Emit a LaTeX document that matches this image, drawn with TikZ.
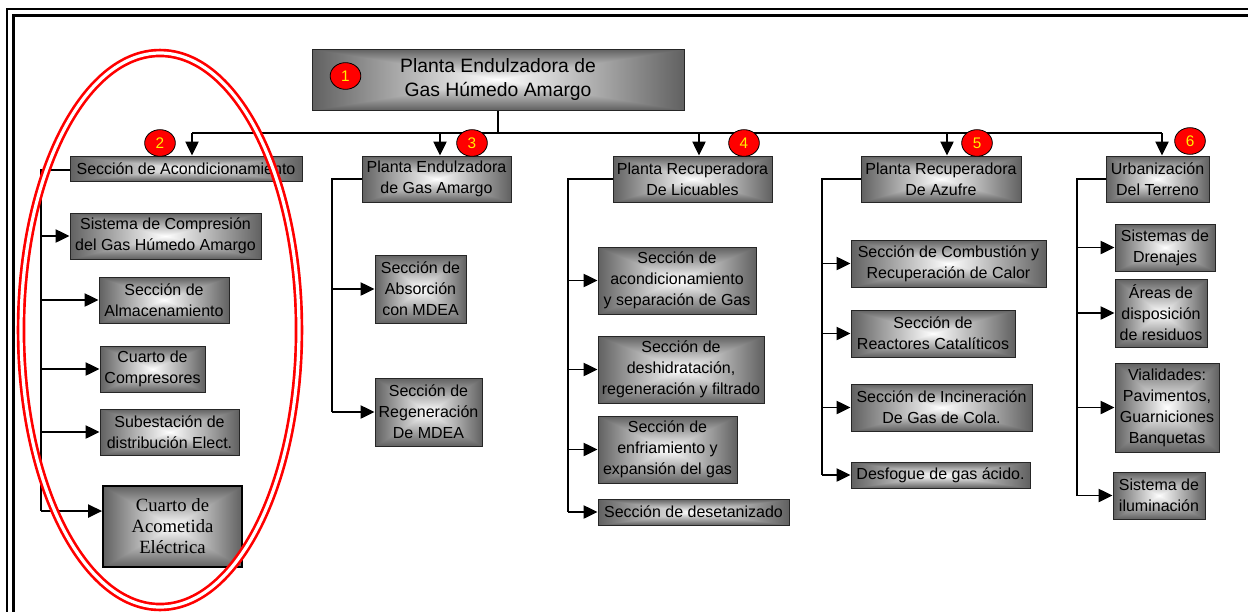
\documentclass[tikz,border=0pt]{standalone}
\usepackage{fontspec}
\setmainfont{Liberation Sans}
\newfontfamily\serifbox{Liberation Serif}
\usetikzlibrary{arrows.meta,shapes.geometric}
% rectangular "from centre" fade: white in the middle, grey at the edges
% (the path's bounding box maps onto the inner 50bp x 50bp square)
\pgfdeclarefunctionalshading{boxfade}{\pgfpoint{-50bp}{-50bp}}{\pgfpoint{50bp}{50bp}}{}{
  abs exch abs 2 copy lt {exch} if pop 25 div dup 1 gt {pop 1} if
  -0.62 mul 1 add dup dup
}
\begin{document}
\begin{tikzpicture}[x=0.75pt,y=-0.75pt,
  box/.style={draw=black!85, line width=0.75pt, shading=boxfade, align=center,
    inner sep=0pt, font=\fontsize{12}{15.75}\selectfont},
  wh/.style 2 args={minimum width=#1*0.75pt, minimum height=#2*0.75pt},
  conn/.style={line width=1pt, black},
  arr/.style={conn, -{Triangle[length=10.5pt,width=10pt]}},
  badge/.style={ellipse, draw=black, fill=red, line width=0.6pt,
    minimum width=23pt, minimum height=20pt, inner sep=0pt,
    text=yellow, font=\fontsize{11.5}{11.5}\selectfont},
  ring/.style={draw=red, line width=2pt, double=white, double distance=2.4pt}]

\fill[white] (0,0) rectangle (1248,611);
\clip (0,0) rectangle (1248,611);

% page frame (runs off the right and bottom edges)
\draw[line width=1.5pt] (7,9) rectangle (1300,700);
\draw[line width=2.25pt] (13.5,15.5) rectangle (1294,694);

% root
\node[box, wh={372}{61}, font=\fontsize{14.5}{18}\selectfont] (top) at (498,79.5)
  {Planta Endulzadora de\\Gas Húmedo Amargo};

% second level
\node[box, wh={232}{25}] (s2) at (186,168.5) {Sección de Acondicionamiento};
\node[box, wh={149}{46}] (s3) at (436.5,179) {Planta Endulzadora\\de Gas Amargo};
\node[box, wh={159}{46}] (s4) at (692.5,179) {Planta Recuperadora\\De Licuables};
\node[box, wh={160}{46}] (s5) at (941,179) {Planta Recuperadora\\De Azufre};
\node[box, wh={103}{46}] (s6) at (1157.5,179) {Urbanización\\Del Terreno};

% children of 2
\node[box, wh={191}{46}] (a1) at (165.5,236) {Sistema de Compresión\\del Gas Húmedo Amargo};
\node[box, wh={130}{46}] (a2) at (164,300) {Sección de\\Almacenamiento};
\node[box, wh={105}{46}] (a3) at (152.5,369) {Cuarto de\\Compresores};
\node[box, wh={139}{46}] (a4) at (169.5,432) {Subestación de\\distribución Elect.};
\node[box, wh={139}{81}, draw=black, line width=1.5pt,
  font=\serifbox\fontsize{14}{15.75}\selectfont] (a5) at (172.5,526.5)
  {Cuarto de\\Acometida\\Eléctrica};

% children of 3
\node[box, wh={91}{68}] (b1) at (420.5,289) {Sección de\\Absorción\\con MDEA};
\node[box, wh={107}{68}] (b2) at (428.5,412) {Sección de\\Regeneración\\De MDEA};

% children of 4
\node[box, wh={158}{67}] (c1) at (677,280.5) {Sección de\\acondicionamiento\\y separación de Gas};
\node[box, wh={166}{67}] (c2) at (681,369.5) {Sección de\\deshidratación,\\regeneración y filtrado};
\node[box, wh={139}{67}] (c3) at (667.5,449.5) {Sección de\\enfriamiento y\\expansión del gas};
\node[box, wh={191}{26}] (c4) at (693.5,512) {Sección de desetanizado};

% children of 5
\node[box, wh={195}{47}] (d1) at (948.5,263.5) {Sección de Combustión y\\Recuperación de Calor};
\node[box, wh={164}{47}] (d2) at (933,333.5) {Sección de\\Reactores Catalíticos};
\node[box, wh={181}{47}] (d3) at (941.5,407.5) {Sección de Incineración\\De Gas de Cola.};
\node[box, wh={179}{26}] (d4) at (940.5,475) {Desfogue de gas ácido.};

% children of 6
\node[box, wh={100}{47}] (e1) at (1165,247.5) {Sistemas de\\Drenajes};
\node[box, wh={92}{68}] (e2) at (1161,313) {Áreas de\\disposición\\de residuos};
\node[box, wh={104}{89}] (e3) at (1167,407.5) {Vialidades:\\Pavimentos,\\Guarniciones\\Banquetas};
\node[box, wh={92}{47}] (e4) at (1159,495.5) {Sistema de\\iluminación};

% bus under the root
\coordinate (j2) at (192,133);
\coordinate (j3) at (440,133);
\coordinate (j4) at (699,133);
\coordinate (j5) at (947,133);
\coordinate (j6) at (1162,133);
\draw[conn] (top.south) -- (top.south |- j2);
\draw[conn] (j2) -- (j6);
\draw[arr] (j2) -- (j2 |- s2.north);
\draw[arr] (j3) -- (j3 |- s3.north);
\draw[arr] (j4) -- (j4 |- s4.north);
\draw[arr] (j5) -- (j5 |- s5.north);
\draw[arr] (j6) -- (j6 |- s6.north);

% trunks
\coordinate (t1) at (41,0);
\coordinate (t2) at (332,0);
\coordinate (t3) at (568,0);
\coordinate (t4) at (822,0);
\coordinate (t5) at (1077,0);
\coordinate (k5) at ([yshift=11.6pt]a5.west);

\draw[conn] ([yshift=-1pt]s2.west) -| (k5 -| t1);
\foreach \n in {a1,a2,a3,a4} \draw[arr] (\n.west -| t1) -- (\n.west);
\draw[arr] (k5 -| t1) -- (k5);

\draw[conn] (s3.west) -| (b2.west -| t2);
\foreach \n in {b1,b2} \draw[arr] (\n.west -| t2) -- (\n.west);

\draw[conn] (s4.west) -| (c4.west -| t3);
\foreach \n in {c1,c2,c3,c4} \draw[arr] (\n.west -| t3) -- (\n.west);

\draw[conn] (s5.west) -| (d4.west -| t4);
\foreach \n in {d1,d2,d3,d4} \draw[arr] (\n.west -| t4) -- (\n.west);

\draw[conn] (s6.west) -| (e4.west -| t5);
\foreach \n in {e1,e2,e3,e4} \draw[arr] (\n.west -| t5) -- (\n.west);

% numbered badges
\node[badge] (n1) at (345.5,76) {1};
\node[badge] (n2) at (160,143) {2};
\node[badge] (n3) at (472,143) {3};
\node[badge] (n4) at (744,143) {4};
\node[badge] (n5) at (977,143) {5};
\node[badge] (n6) at (1190,141) {6};

% highlight around the conditioning section
\draw[ring] (160,330) ellipse [x radius=139, y radius=277];
\end{tikzpicture}
\end{document}
